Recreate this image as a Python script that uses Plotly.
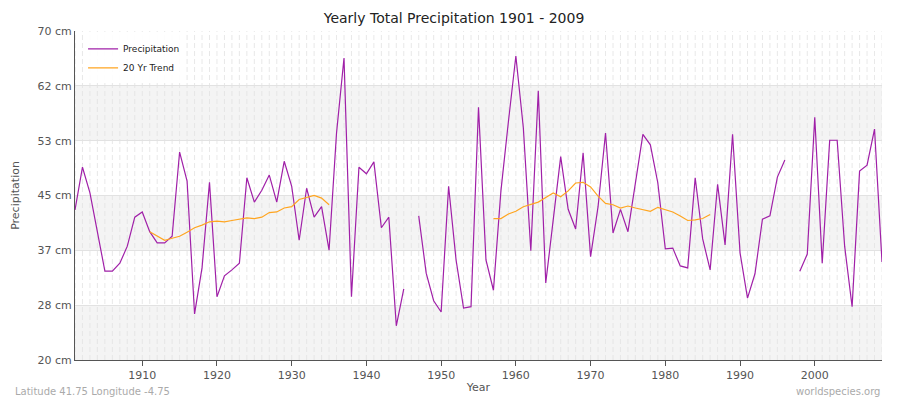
import plotly.graph_objects as go

years = list(range(1901, 2010))
precip = [42.8, 49.3, 45.4, 39.5, 33.5, 33.5, 34.7, 37.3, 41.7, 42.5,
          39.5, 37.8, 37.8, 38.8, 51.6, 47.2, 27.0, 34.0, 47.0, 29.6,
          32.8, 33.7, 34.7, 47.7, 44.0, 45.8, 48.1, 44.0, 50.2, 46.4,
          38.2, 46.1, 41.7, 43.3, 36.7, 54.5, 65.9, 29.6, 49.3, 48.3,
          50.1, 40.1, 41.7, 25.2, 30.8, None, 41.9, 33.2, 29.0, 27.3,
          46.4, 35.2, 27.9, 28.1, 58.4, 35.2, 30.6, 45.7, 56.2, 66.2,
          55.3, 36.6, 60.9, 31.7, 41.3, 50.9, 42.9, 39.9, 51.5, 35.7,
          43.3, 54.5, 39.3, 42.9, 39.5, 46.9, 54.3, 52.7, 46.9, 36.9,
          37.0, 34.3, 34.0, 47.7, 38.4, 33.7, 46.7, 37.5, 54.3, 36.3,
          29.4, 33.1, 41.4, 41.9, 47.8, 50.4, None, 33.5, 36.1, 56.9,
          34.7, 53.4, 53.4, 37.3, 28.1, 48.7, 49.6, 55.1, 34.9]

trend_years = list(range(1911, 1936)) + [None] + list(range(1957, 1987))
trend = [39.5, 38.9, 38.2, 38.5, 38.8, 39.4, 40.1, 40.5, 41.0, 41.1,
         41.0, 41.2, 41.4, 41.6, 41.5, 41.7, 42.4, 42.5, 43.1, 43.3,
         44.4, 44.7, 45.0, 44.6, 43.6, None,
         41.5, 41.5, 42.2, 42.6, 43.3, 43.7, 44.0, 44.7, 45.4, 44.8,
         45.7, 46.9, 47.0, 46.3, 44.9, 43.8, 43.6, 43.1, 43.4, 43.1,
         42.9, 42.6, 43.2, 42.8, 42.5, 41.9, 41.2, 41.3, 41.5, 42.1]

ytick_vals = [20 + 50 / 6 * k for k in range(7)]
ytick_text = ["20 cm", "28 cm", "37 cm", "45 cm", "53 cm", "62 cm", "70 cm"]

fig = go.Figure()

# alternating bands
for lo, hi in [(ytick_vals[0], ytick_vals[1]), (ytick_vals[2], ytick_vals[3]), (ytick_vals[4], ytick_vals[5])]:
    fig.add_hrect(y0=lo, y1=hi, fillcolor="#f4f4f4", line_width=0, layer="below")

# yearly dashed grid
for yr in years:
    fig.add_vline(x=yr, line=dict(color="#e2e2e2", width=0.8, dash="5px,3px"), layer="below")

fig.add_trace(go.Scatter(x=years, y=precip, mode="lines", name="Precipitation",
                         line=dict(color="#a020a8", width=1.2), connectgaps=False))
fig.add_trace(go.Scatter(x=trend_years, y=trend, mode="lines", name="20 Yr Trend",
                         line=dict(color="#ffa520", width=1.2), connectgaps=False))

fig.update_layout(
    width=892, height=392,
    paper_bgcolor="white", plot_bgcolor="white",
    margin=dict(l=67, r=18, t=23, b=40),
    font=dict(family="DejaVu Sans", size=11, color="#555"),
    title=dict(text="Yearly Total Precipitation 1901 - 2009", x=0.5, y=0.975, yanchor="middle",
               font=dict(size=14, color="#222")),
    showlegend=True,
    legend=dict(x=0.01, y=0.99, bgcolor="rgba(255,255,255,0.9)", font=dict(size=9, color="#222"),
                itemwidth=30, tracegroupgap=0),
)
fig.update_xaxes(range=[1901, 2009], tickvals=list(range(1910, 2010, 10)), showgrid=False,
                 automargin=False,
                 title=dict(text="Year", standoff=2, font=dict(size=11)),
                 showline=True, linecolor="#555", ticks="outside", ticklen=5, tickcolor="#555")
fig.update_yaxes(range=[20, 70], tickvals=ytick_vals, ticktext=ytick_text, automargin=False,
                 gridcolor="#e2e2e2", zeroline=False, showline=True, linecolor="#555",
                 title=dict(text="Precipitation", font=dict(size=11)))

fig.add_annotation(text="Latitude 41.75 Longitude -4.75", xref="paper", yref="paper",
                   x=-0.077, y=-0.097, xanchor="left", yanchor="middle", showarrow=False,
                   font=dict(size=10, color="#aaa"))
fig.add_annotation(text="worldspecies.org", xref="paper", yref="paper",
                   x=1.0, y=-0.097, xanchor="right", yanchor="middle", showarrow=False,
                   font=dict(size=10, color="#aaa"))

fig.write_html("out.html")
